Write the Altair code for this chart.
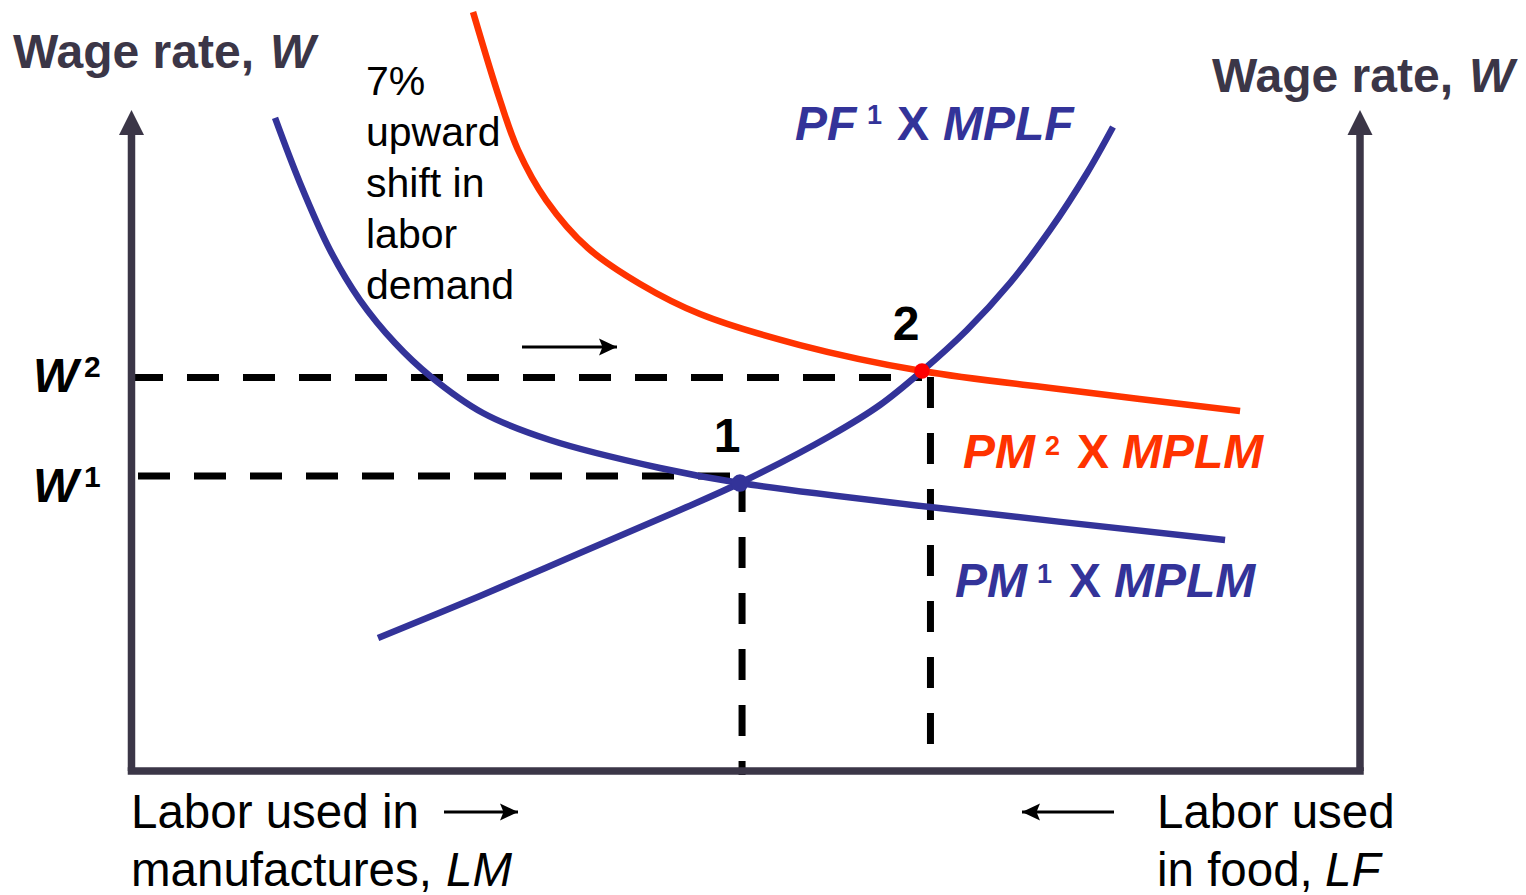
import altair as alt
import pandas as pd

# ---- data (labor units 0..100 across the box, wage units 0..100 up the axis) ----
mplm1_L = [11.72, 13.75, 16.19, 18.63, 21.48, 24.33, 28.64, 34.09, 43.04, 49.55, 65.01, 89.02]
mplm1_W = [98.79, 88.94, 78.79, 71.21, 64.70, 59.70, 54.09, 50.00, 45.76, 43.48, 39.85, 34.85]
mplm2_L = [27.83, 30.02, 31.49, 33.77, 37.18, 41.42, 46.30, 54.43, 64.36, 76.16, 90.24]
mplm2_W = [114.85, 101.52, 93.94, 86.36, 79.09, 73.64, 69.09, 64.39, 60.45, 57.58, 54.39]
mplf_L = [20.10, 28.40, 36.53, 44.67, 49.55, 56.88, 60.94, 64.36, 68.02, 71.52, 74.78, 77.79, 79.90]
mplf_W = [20.0, 26.36, 32.88, 39.39, 43.48, 50.61, 55.30, 60.45, 66.67, 73.79, 81.82, 90.45, 97.42]

eq_L = [49.55, 64.36]
eq_W = [43.48, 60.45]
eq_color = ["#333399", "#ff0000"]
eq_size = [300, 240]

wage_levels = [44.55, 59.47]       # W1, W2
wage_from = [0.57, 0.0]
wage_to = [49.55, 64.36]
labor_levels = [49.72, 65.05]      # LM at 1 and 2
labor_top = [43.8, 59.55]
labor_bottom = [-0.76, -0.3]

BLUE = "#333399"
RED = "#ff3300"
AXC = "#3b3647"
FONT = "Liberation Sans"

W_PX, H_PX = 1510, 885
xs = alt.Scale(domain=[-10.008, 112.856], nice=False, zero=False)
ys = alt.Scale(domain=[-18.636, 115.455], nice=False, zero=False)

def X(f="L:Q"):
    return alt.X(f, scale=xs, axis=None)

def Y(f="W:Q"):
    return alt.Y(f, scale=ys, axis=None)

curves = pd.concat([
    pd.DataFrame({"L": mplm1_L, "W": mplm1_W, "c": "mplm1"}),
    pd.DataFrame({"L": mplm2_L, "W": mplm2_W, "c": "mplm2"}),
    pd.DataFrame({"L": mplf_L, "W": mplf_W, "c": "mplf"}),
], ignore_index=True)

curve_layer = alt.Chart(curves).mark_line(strokeWidth=6.5, interpolate="catmull-rom", strokeCap="butt").encode(
    x=X(), y=Y(),
    detail="c:N",
    color=alt.Color("c:N", scale=alt.Scale(domain=["mplm1", "mplm2", "mplf"], range=[BLUE, RED, BLUE]), legend=None),
)

hdash = alt.Chart(pd.DataFrame({"a": wage_from, "b": wage_to, "w": wage_levels})).mark_rule(
    color="black", strokeWidth=7, strokeDash=[32, 24], strokeCap="butt"
).encode(x=X("a:Q"), x2="b:Q", y=Y("w:Q"))

vdash = alt.Chart(pd.DataFrame({"l": labor_levels, "t": labor_top, "b": labor_bottom})).mark_rule(
    color="black", strokeWidth=7, strokeDash=[31, 25], strokeCap="butt"
).encode(x=X("l:Q"), y=Y("t:Q"), y2="b:Q")

# axes box (left and right wage axes, bottom labor axis)
axes_v = alt.Chart(pd.DataFrame({"l": [0.04, 100.0], "a": [-0.15, -0.15], "b": [97.0, 97.0]})).mark_rule(
    color=AXC, strokeWidth=7.5
).encode(x=X("l:Q"), y=Y("a:Q"), y2="b:Q")
axes_h = alt.Chart(pd.DataFrame({"a": [0.04], "b": [100.0], "w": [-0.15]})).mark_rule(
    color=AXC, strokeWidth=7.5, strokeCap="square"
).encode(x=X("a:Q"), x2="b:Q", y=Y("w:Q"))
heads = alt.Chart(pd.DataFrame({"l": [0.04, 100.0], "w": [98.11, 98.11]})).mark_point(
    shape="M0,-1L1,1L-1,1Z", size=625, filled=True, color=AXC, opacity=1, strokeWidth=0
).encode(x=X("l:Q"), y=Y("w:Q"))

dots = alt.Chart(pd.DataFrame({"L": eq_L, "W": eq_W, "col": eq_color, "s": eq_size})).mark_circle(opacity=1).encode(
    x=X(), y=Y(), color=alt.Color("col:N", scale=None), size=alt.Size("s:Q", scale=None)
)

def px(v):
    return v - 8

def txt(s, x, y, size=48, color="black", weight="bold", style="normal", align="left", lh=None):
    kw = dict(font=FONT, fontSize=size, fontWeight=weight, fontStyle=style, color=color,
              align=align, baseline="alphabetic")
    if lh is not None:
        kw["lineHeight"] = lh
    return alt.Chart(pd.DataFrame({"t": [0]})).mark_text(**kw).encode(
        x=alt.value(px(x)), y=alt.value(px(y)), text=alt.value(s)
    )

def arrow(x1, x2, y, right=True):
    shaft = alt.Chart(pd.DataFrame({"t": [0]})).mark_rule(color="black", strokeWidth=3).encode(
        x=alt.value(px(x1)), x2=alt.value(px(x2)), y=alt.value(px(y))
    )
    shape = "M1,0L-0.8,-0.85L-0.45,0L-0.8,0.85Z" if right else "M-1,0L0.8,-0.85L0.45,0L0.8,0.85Z"
    tipx = x2 - 10 if right else x1 + 10
    head = alt.Chart(pd.DataFrame({"t": [0]})).mark_point(
        shape=shape, size=400, filled=True, color="black", opacity=1, strokeWidth=0
    ).encode(x=alt.value(px(tipx)), y=alt.value(px(y)))
    return [shaft, head]

BT = 47.5
texts = [
    txt("Wage rate,", 13, 68, color=AXC),
    txt("W", 270, 68, color=AXC, style="italic"),
    txt("Wage rate,", 1212, 92, color=AXC),
    txt("W", 1469, 92, color=AXC, style="italic"),
    txt(["7%", "upward", "shift in", "labor", "demand"], 366, 95, size=41, weight="normal", lh=51),
    txt("PF", 795, 140, color=BLUE, style="italic"),
    txt("1", 867, 124, size=27, color=BLUE),
    txt("X", 897, 140, color=BLUE),
    txt("MPLF", 943, 140, color=BLUE, style="italic"),
    txt("PM", 963, 468, color=RED, style="italic"),
    txt("2", 1045, 455, size=27, color=RED),
    txt("X", 1077, 468, color=RED),
    txt("MPLM", 1122, 468, color=RED, style="italic"),
    txt("PM", 955, 597, color=BLUE, style="italic"),
    txt("1", 1037, 583, size=27, color=BLUE),
    txt("X", 1069, 597, color=BLUE),
    txt("MPLM", 1114, 597, color=BLUE, style="italic"),
    txt("W", 33, 392, style="italic"),
    txt("2", 84, 377, size=30),
    txt("W", 33, 502, style="italic"),
    txt("1", 84, 487, size=30),
    txt("1", 727, 452, align="center"),
    txt("2", 906, 340, align="center"),
    txt("Labor used in", 131, 828, size=BT, weight="normal"),
    txt("manufactures,", 131, 886, size=BT, weight="normal"),
    txt("LM", 446, 886, size=BT, weight="normal", style="italic"),
    txt("Labor used", 1157, 828, size=BT, weight="normal"),
    txt("in food,", 1157, 886, size=BT, weight="normal"),
    txt("LF", 1325, 886, size=BT, weight="normal", style="italic"),
]

arrows = arrow(522, 617, 347) + arrow(444, 518, 812) + arrow(1022, 1114, 812, right=False)

chart = alt.layer(
    hdash, vdash, axes_v, axes_h, heads, curve_layer, dots, *arrows, *texts
).properties(
    width=W_PX, height=H_PX, padding=0, autosize=alt.AutoSizeParams(type="none")
).configure_view(stroke=None)

chart.save("out.html", embed_options={"renderer": "svg", "actions": False})
